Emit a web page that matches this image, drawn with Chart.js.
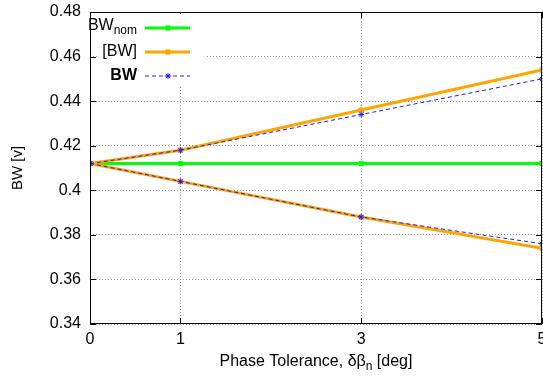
<!DOCTYPE html>
<html>
<head>
<meta charset="utf-8">
<script src="https://cdn.jsdelivr.net/npm/chart.js@4/dist/chart.umd.min.js"></script>
<style>
  html, body { margin: 0; padding: 0; background: #fff; }
  #wrap { width: 543px; height: 380px; }
</style>
</head>
<body>
<div id="wrap"><canvas id="grafica"></canvas></div>
<script>
// valores
const tolerancias = [0, 1, 3, 5];
const bwNominal = [0.412, 0.412, 0.412, 0.412];
const rangoSuperior = [0.412, 0.418, 0.436, 0.454];
const rangoInferior = [0.412, 0.404, 0.388, 0.374];
const bwSuperior = [0.412, 0.418, 0.434, 0.450];
const bwInferior = [0.412, 0.404, 0.388, 0.376];
const ticksX = [0, 1, 3, 5];

const FUENTE = '"Liberation Sans", Arial, sans-serif';
const VERDE = '#00ff00';
const NARANJA = '#ffa500';
const AZUL = '#1a1aff';

function puntos(valores) {
    return tolerancias.map((x, i) => ({ x: x, y: valores[i] }));
}

function serie(valores, color, ancho, estilo, dash, orden) {
    return {
        data: puntos(valores),
        borderColor: color,
        backgroundColor: color,
        borderWidth: ancho,
        borderDash: dash,
        pointStyle: estilo,
        pointRadius: 3,
        pointBorderWidth: 1,
        pointBorderColor: color,
        order: orden,
        tension: 0,
    };
}

// texto con subindice
function textoSub(ctx, base, sub, resto, x, y, align, size, bold) {
    const peso = bold ? 'bold ' : '';
    ctx.font = peso + size + 'px ' + FUENTE;
    const wBase = ctx.measureText(base).width;
    const wResto = ctx.measureText(resto).width;
    ctx.font = peso + Math.round(size * 0.75) + 'px ' + FUENTE;
    const wSub = ctx.measureText(sub).width;
    const total = wBase + wSub + wResto;
    let x0 = x;
    if (align === 'center') x0 = x - total / 2;
    if (align === 'right') x0 = x - total;
    ctx.textAlign = 'left';
    ctx.textBaseline = 'middle';
    ctx.font = peso + size + 'px ' + FUENTE;
    ctx.fillText(base, x0, y);
    ctx.font = peso + Math.round(size * 0.75) + 'px ' + FUENTE;
    ctx.fillText(sub, x0 + wBase, y + size * 0.3);
    ctx.font = peso + size + 'px ' + FUENTE;
    ctx.fillText(resto, x0 + wBase + wSub, y);
}

const extras = {
    id: 'extras',
    afterDatasetsDraw(chart) {
        const ctx = chart.ctx;
        const a = chart.chartArea;
        const sx = chart.scales.x;
        const sy = chart.scales.y;
        ctx.save();

        // marco y marcas interiores
        ctx.strokeStyle = '#000';
        ctx.lineWidth = 1;
        ctx.setLineDash([]);
        ctx.strokeRect(a.left + 0.5, a.top + 0.5, a.right - a.left - 1, a.bottom - a.top - 1);
        ctx.beginPath();
        sy.ticks.forEach(t => {
            const y = Math.round(sy.getPixelForValue(t.value)) + 0.5;
            ctx.moveTo(a.left, y); ctx.lineTo(a.left + 6, y);
            ctx.moveTo(a.right, y); ctx.lineTo(a.right - 6, y);
        });
        ticksX.forEach(v => {
            const x = Math.round(sx.getPixelForValue(v)) + 0.5;
            ctx.moveTo(x, a.bottom); ctx.lineTo(x, a.bottom - 6);
            ctx.moveTo(x, a.top); ctx.lineTo(x, a.top + 6);
        });
        ctx.stroke();

        // etiquetas del eje x
        ctx.fillStyle = '#000';
        ctx.font = '16px ' + FUENTE;
        ctx.textAlign = 'center';
        ctx.textBaseline = 'middle';
        ticksX.forEach(v => {
            ctx.fillText(String(v), sx.getPixelForValue(v), a.bottom + 16);
        });

        // titulos
        textoSub(ctx, 'Phase Tolerance, \u03b4\u03b2', 'n', ' [deg]', (a.left + a.right) / 2, a.bottom + 38, 'center', 16, false);
        ctx.save();
        ctx.translate(18, (a.top + a.bottom) / 2);
        ctx.rotate(-Math.PI / 2);
        ctx.font = '15px ' + FUENTE;
        ctx.textAlign = 'center';
        ctx.textBaseline = 'middle';
        ctx.fillText('BW [v]', 0, 0);
        ctx.restore();

        // leyenda
        ctx.fillStyle = '#fff';
        ctx.fillRect(a.left + 8, a.top + 2, 108, 73);
        const filas = [
            { y: a.top + 16, color: VERDE, ancho: 3, dash: [], estilo: 'rect' },
            { y: a.top + 40, color: NARANJA, ancho: 3, dash: [], estilo: 'rect' },
            { y: a.top + 64, color: AZUL, ancho: 1, dash: [4, 3], estilo: 'star' },
        ];
        ctx.fillStyle = '#000';
        textoSub(ctx, 'BW', 'nom', '', a.left + 47, filas[0].y - 2, 'right', 16, false);
        ctx.font = '16px ' + FUENTE;
        ctx.textAlign = 'right';
        ctx.fillText('[BW]', a.left + 47, filas[1].y);
        ctx.font = 'bold 16px ' + FUENTE;
        ctx.fillText('BW', a.left + 47, filas[2].y);
        filas.forEach(f => {
            ctx.strokeStyle = f.color;
            ctx.fillStyle = f.color;
            ctx.lineWidth = f.ancho;
            ctx.setLineDash(f.dash);
            ctx.beginPath();
            ctx.moveTo(a.left + 55, f.y);
            ctx.lineTo(a.left + 100, f.y);
            ctx.stroke();
            ctx.setLineDash([]);
            ctx.lineWidth = 1;
            Chart.helpers.drawPoint(ctx, { pointStyle: f.estilo, radius: 3, rotation: 0, borderWidth: 1 }, a.left + 78, f.y);
        });
        ctx.restore();
    }
};

new Chart(document.getElementById('grafica').getContext('2d'), {
    type: 'line',
    data: {
        datasets: [
            serie(bwNominal, VERDE, 3, 'rect', [], 2),
            serie(rangoSuperior, NARANJA, 3, 'rect', [], 1),
            serie(rangoInferior, NARANJA, 3, 'rect', [], 1),
            serie(bwSuperior, AZUL, 1, 'star', [4, 3], 0),
            serie(bwInferior, AZUL, 1, 'star', [4, 3], 0),
        ],
    },
    options: {
        responsive: true,
        maintainAspectRatio: false,
        animation: false,
        layout: { autoPadding: false, padding: { top: 12, right: 1, left: 0, bottom: 0 } },
        plugins: { legend: { display: false }, tooltip: { enabled: false } },
        scales: {
            x: {
                type: 'linear',
                min: 0,
                max: 5,
                afterBuildTicks: scale => { scale.ticks = ticksX.map(v => ({ value: v })); },
                afterFit: scale => { scale.height = 56; scale.paddingRight = 0; scale.paddingLeft = 0; },
                ticks: { display: false },
                grid: { color: '#999', drawTicks: false },
                border: { display: false, dash: [1, 2] },
            },
            y: {
                min: 0.34,
                max: 0.48,
                afterFit: scale => { scale.width = 90; scale.paddingTop = 0; scale.paddingBottom = 0; },
                ticks: {
                    stepSize: 0.02,
                    padding: 9,
                    color: '#000',
                    font: { family: FUENTE, size: 16 },
                    callback: v => String(Number(v.toFixed(2))),
                },
                grid: { color: '#999', drawTicks: false },
                border: { display: false, dash: [1, 2] },
            },
        },
    },
    plugins: [extras],
});
</script>
</body>
</html>
